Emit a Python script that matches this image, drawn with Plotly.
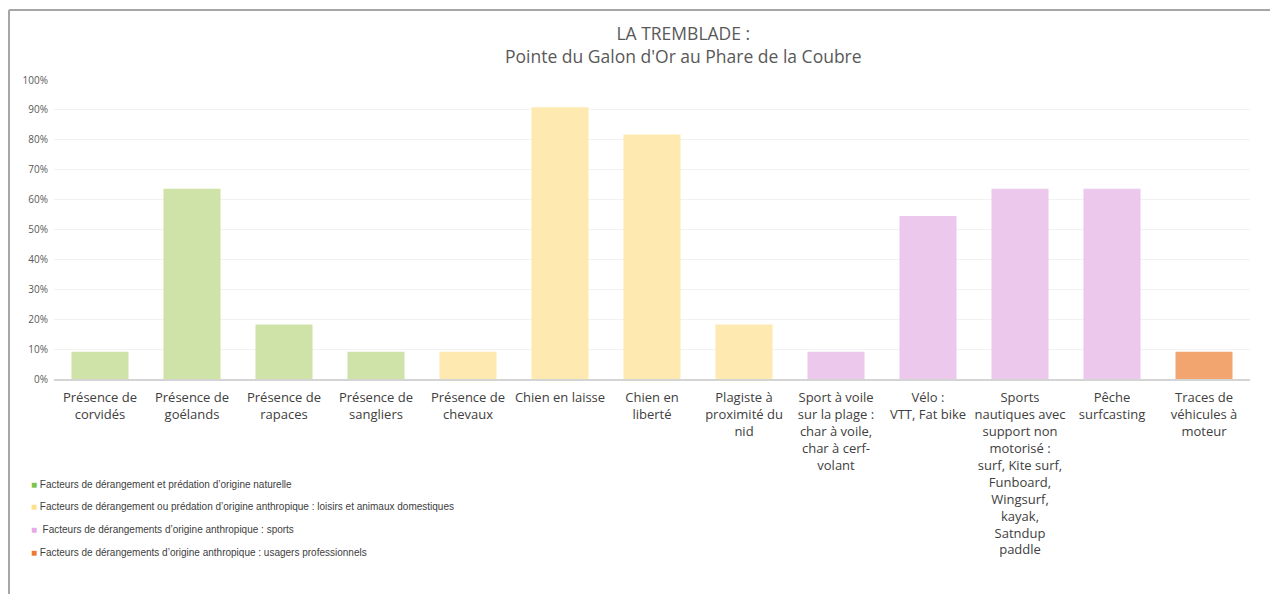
import plotly.graph_objects as go

categories = [
    "Présence de<br>corvidés",
    "Présence de<br>goélands",
    "Présence de<br>rapaces",
    "Présence de<br>sangliers",
    "Présence de<br>chevaux",
    "Chien en laisse",
    "Chien en<br>liberté",
    "Plagiste à<br>proximité du<br>nid",
    "Sport à voile<br>sur la plage :<br>char à voile,<br>char à cerf-<br>volant",
    "Vélo :<br>VTT, Fat bike",
    "Sports<br>nautiques avec<br>support non<br>motorisé :<br>surf, Kite surf,<br>Funboard,<br>Wingsurf,<br>kayak,<br>Satndup<br>paddle",
    "Pêche<br>surfcasting",
    "Traces de<br>véhicules à<br>moteur",
]
values = [0.091, 0.636, 0.182, 0.091, 0.091, 0.909, 0.818, 0.182, 0.091, 0.545, 0.636, 0.636, 0.091]
groups = ["nat", "nat", "nat", "nat", "loisir", "loisir", "loisir", "loisir",
          "sport", "sport", "sport", "sport", "pro"]

legend_labels = {
    "nat": "Facteurs de dérangement et prédation d’origine naturelle",
    "loisir": "Facteurs de dérangement ou prédation d’origine anthropique : loisirs et animaux domestiques",
    "sport": " Facteurs de dérangements d’origine anthropique : sports",
    "pro": "Facteurs de dérangements d’origine anthropique : usagers professionnels",
}

bar_colors = {"nat": "#cfe3a8", "loisir": "#fee9b1", "sport": "#ecc9ec", "pro": "#f2a56f"}
key_colors = {"nat": "#7dc24a", "loisir": "#fde18a", "sport": "#e6aae6", "pro": "#ee7b30"}

# page has an 8px body margin, so work in page pixels minus O
O = 8
W, H = 1278 - O, 594 - O
L, R, T, B = 54 - O, 28, 80 - O, 594 - 379
plot_h = H - T - B
plot_w = W - L - R


def px_x(x):
    return (x - O - L) / plot_w


def px_y(y):
    return (H - B - (y - O)) / plot_h


fig = go.Figure()
fig.add_trace(go.Bar(
    x=list(range(len(categories))), y=values,
    marker=dict(color=[bar_colors[g] for g in groups], line=dict(width=0)),
    hoverinfo="y",
))

fig.update_layout(
    width=W, height=H,
    margin=dict(l=L, r=R, t=T, b=B),
    paper_bgcolor="white", plot_bgcolor="white",
    showlegend=False, bargap=0.38,
    font=dict(family="Open Sans, sans-serif", color="#404040"),
    xaxis=dict(
        tickmode="array", tickvals=list(range(len(categories))), ticktext=categories,
        tickfont=dict(size=13, color="#404040"), tickangle=0,
        showgrid=False, showline=True, linecolor="#d4d4d4", linewidth=1.5,
        range=[-0.5, len(categories) - 0.5], fixedrange=True,
        ticklabelstandoff=6,
    ),
    yaxis=dict(
        range=[0, 1], dtick=0.1, tickformat=".0%",
        tickfont=dict(size=10, color="#595959"),
        showgrid=True, gridcolor="#f2f2f2", gridwidth=1, zeroline=False,
        ticklabelstandoff=5,
    ),
)

fig.add_annotation(
    text="LA TREMBLADE :<br>Pointe du Galon d'Or au Phare de la Coubre",
    xref="paper", yref="paper",
    x=px_x(683), y=px_y(19),
    xanchor="center", yanchor="top", showarrow=False,
    font=dict(size=17.5, color="#595959", family="Open Sans, sans-serif"),
)

# legend block drawn as text
for i, g in enumerate(["nat", "loisir", "sport", "pro"]):
    fig.add_annotation(
        text=f"<span style='color:{key_colors[g]}'>■</span> {legend_labels[g]}",
        xref="paper", yref="paper",
        x=px_x(29), y=px_y(484 + i * 22.7),
        xanchor="left", yanchor="middle", showarrow=False,
        font=dict(size=10, color="#404040", family="Liberation Sans Narrow, Arial Narrow, sans-serif"),
    )

# outer frame (top and left edges)
fig.add_shape(type="line", xref="paper", yref="paper",
              x0=px_x(9), x1=px_x(9), y0=px_y(10), y1=px_y(620),
              line=dict(color="#a6a6a6", width=2))
fig.add_shape(type="line", xref="paper", yref="paper",
              x0=px_x(9), x1=px_x(1300), y0=px_y(10), y1=px_y(10),
              line=dict(color="#a6a6a6", width=2))

fig.write_html("out.html")
